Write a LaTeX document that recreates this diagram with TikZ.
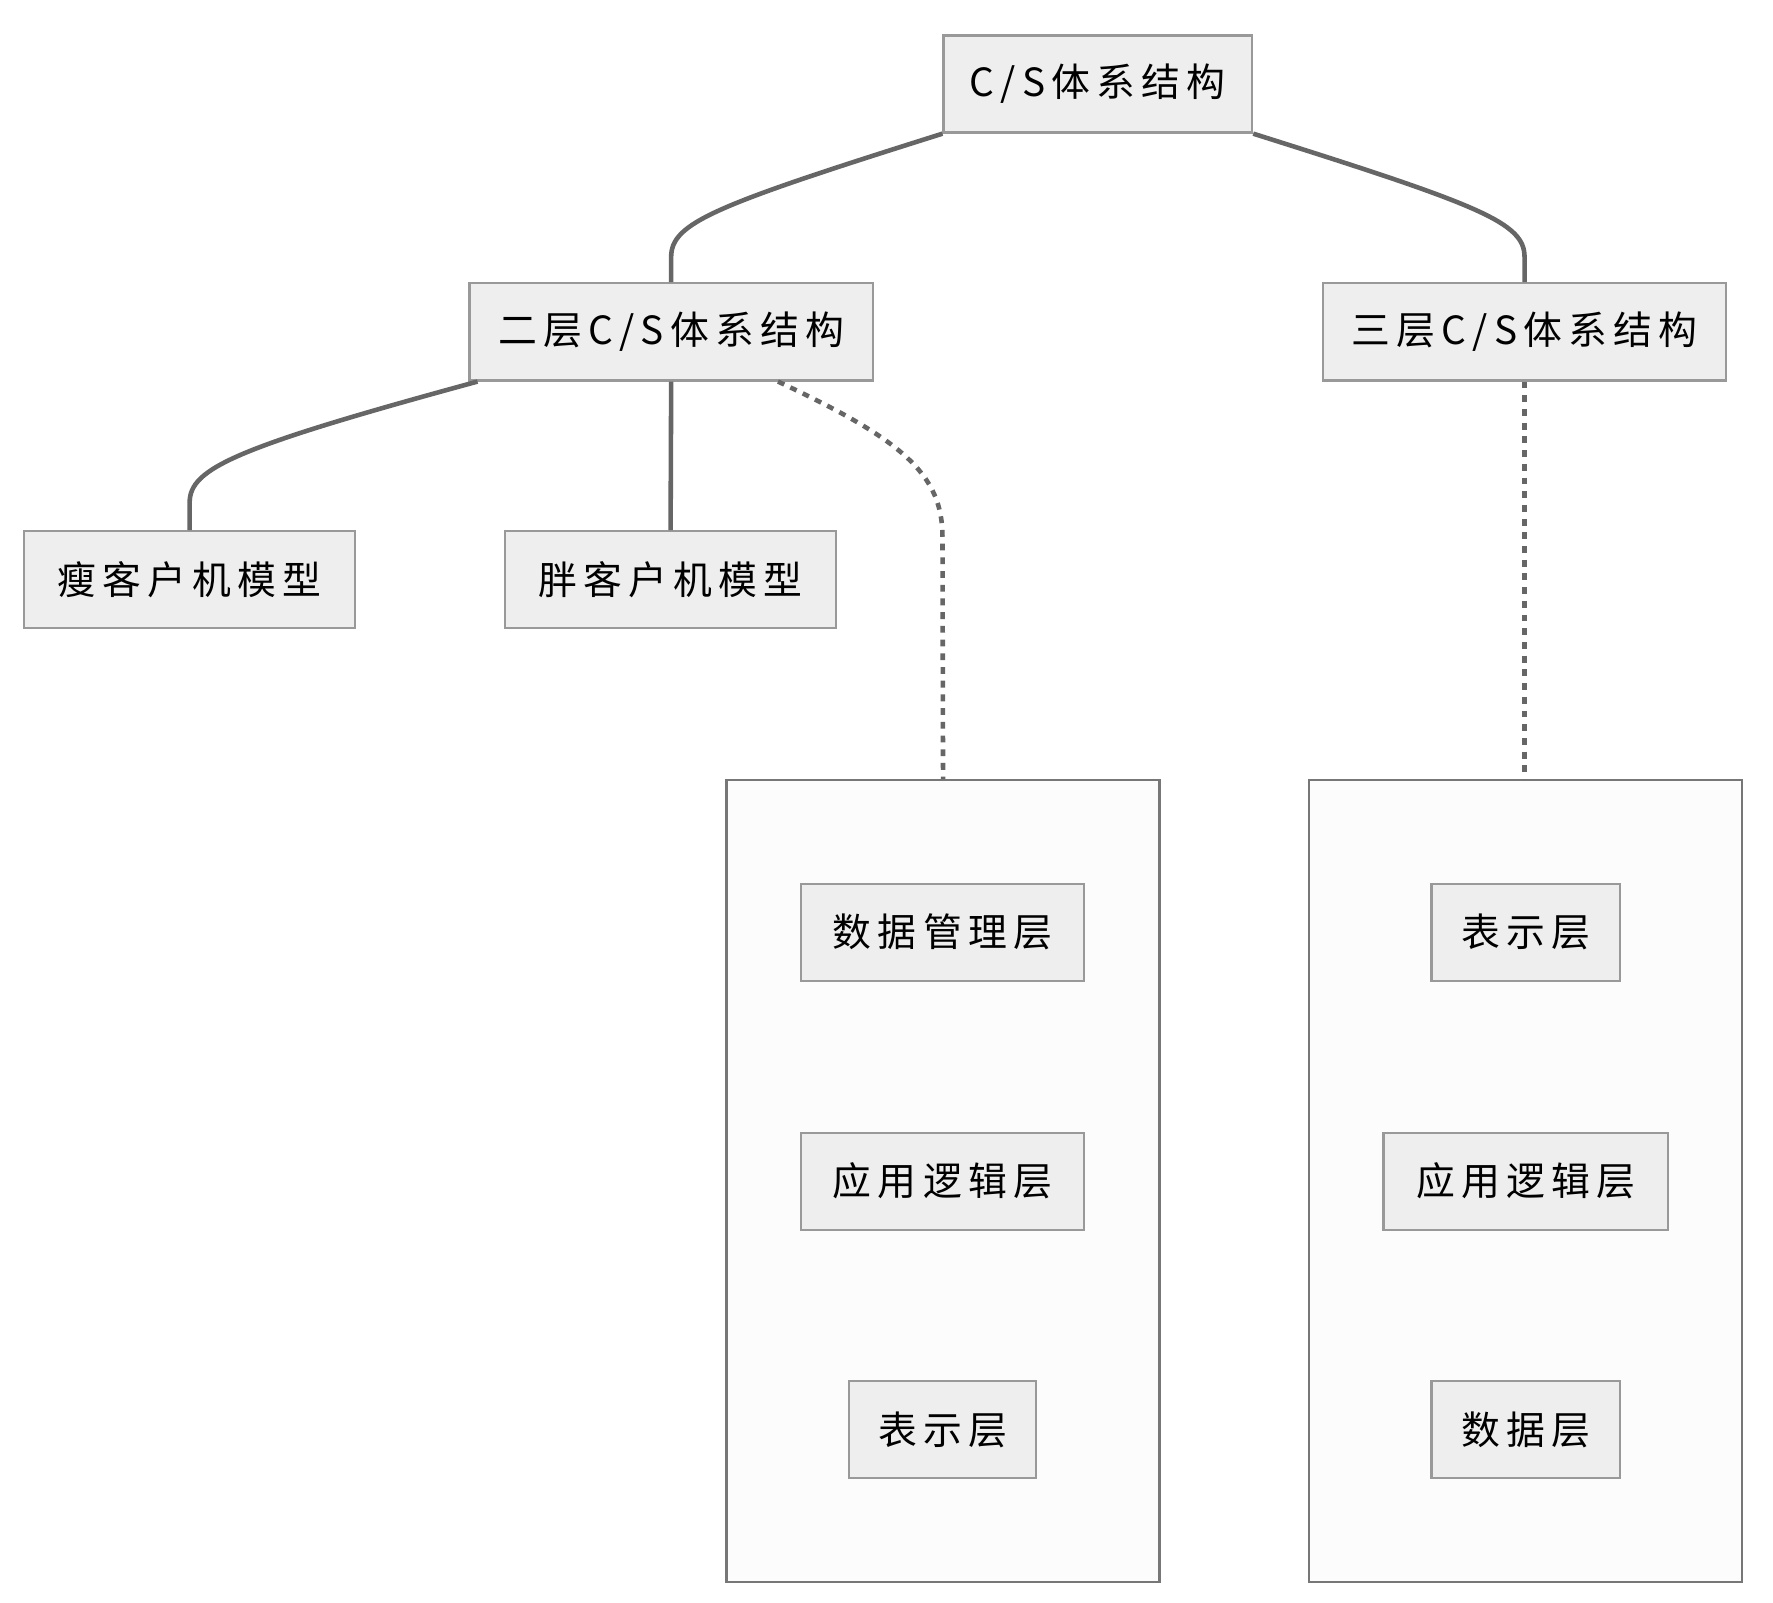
\documentclass[tikz,border=0pt]{standalone}
\usepackage{fontspec}
\setmainfont{Noto Sans CJK SC}[LetterSpace=16]
\definecolor{nodefill}{HTML}{EEEEEE}
\definecolor{nodeline}{HTML}{999999}
\definecolor{clusterfill}{HTML}{FCFCFC}
\definecolor{clusterline}{HTML}{777777}
\definecolor{edgeline}{HTML}{666666}
\tikzset{
  box/.style={draw=nodeline, fill=nodefill, line width=1pt, inner sep=0pt,
    minimum height=42.5pt, font=\fontsize{17pt}{20pt}\selectfont},
  cluster/.style={draw=clusterline, fill=clusterfill, line width=1pt,
    minimum width=189.5pt, minimum height=351pt, inner sep=0pt},
  link/.style={draw=edgeline, line width=2pt},
  dotlink/.style={link, dash pattern=on 3pt off 3pt}
}
\begin{document}
\begin{tikzpicture}[x=0.5pt, y=-0.5pt]
  \useasboundingbox[fill=white] (0,0) rectangle (1552,1403);

  %% subgraphs
  \node[cluster] (two)   at (825.5,1034) {};
  \node[cluster] (three) at (1335.5,1034) {};

  \node[box, minimum width=135pt] (cs) at (961,73.5) {C/S体系结构};

  \node[box, minimum width=176.5pt] (cstwo)   at (587.5,290.5)  {二层C/S体系结构};
  \node[box, minimum width=176.5pt] (csthree) at (1334.5,290.5) {三层C/S体系结构};

  \node[box, minimum width=145pt] (thin) at (166,507.5) {瘦客户机模型};
  \node[box, minimum width=145pt] (fat)  at (587,507.5) {胖客户机模型};

  %% two-tier layers
  \node[box, minimum width=124pt] (twodata) at (825,816)    {数据管理层};
  \node[box, minimum width=124pt] (twoapp)  at (825,1034)   {应用逻辑层};
  \node[box, minimum width=82pt]  (twoview) at (825,1251.5) {表示层};

  %% three-tier layers
  \node[box, minimum width=82.5pt]  (threeview) at (1335.5,816)    {表示层};
  \node[box, minimum width=124.5pt] (threeapp)  at (1335.5,1034)   {应用逻辑层};
  \node[box, minimum width=82.5pt]  (threedata) at (1335.5,1251.5) {数据层};

  %% links
  \draw[link] (cs.south west) .. controls (625,180) and (587.5,195) .. (587.5,225) -- (cstwo.north);
  \draw[link] (cs.south east) .. controls (1297,180) and (1334.5,195) .. (1334.5,225) -- (csthree.north);
  \draw[link] ([xshift=4pt]cstwo.south west) .. controls (205,392) and (166,410) .. (166,440) -- (thin.north);
  \draw[link] (cstwo.south) -- (fat.north);
  \draw[dotlink] ([xshift=-42pt]cstwo.south east) .. controls (790,385) and (825,415) .. (825,470) -- (two.north);
  \draw[dotlink] (csthree.south) -- (csthree.south |- three.north);
\end{tikzpicture}
\end{document}
